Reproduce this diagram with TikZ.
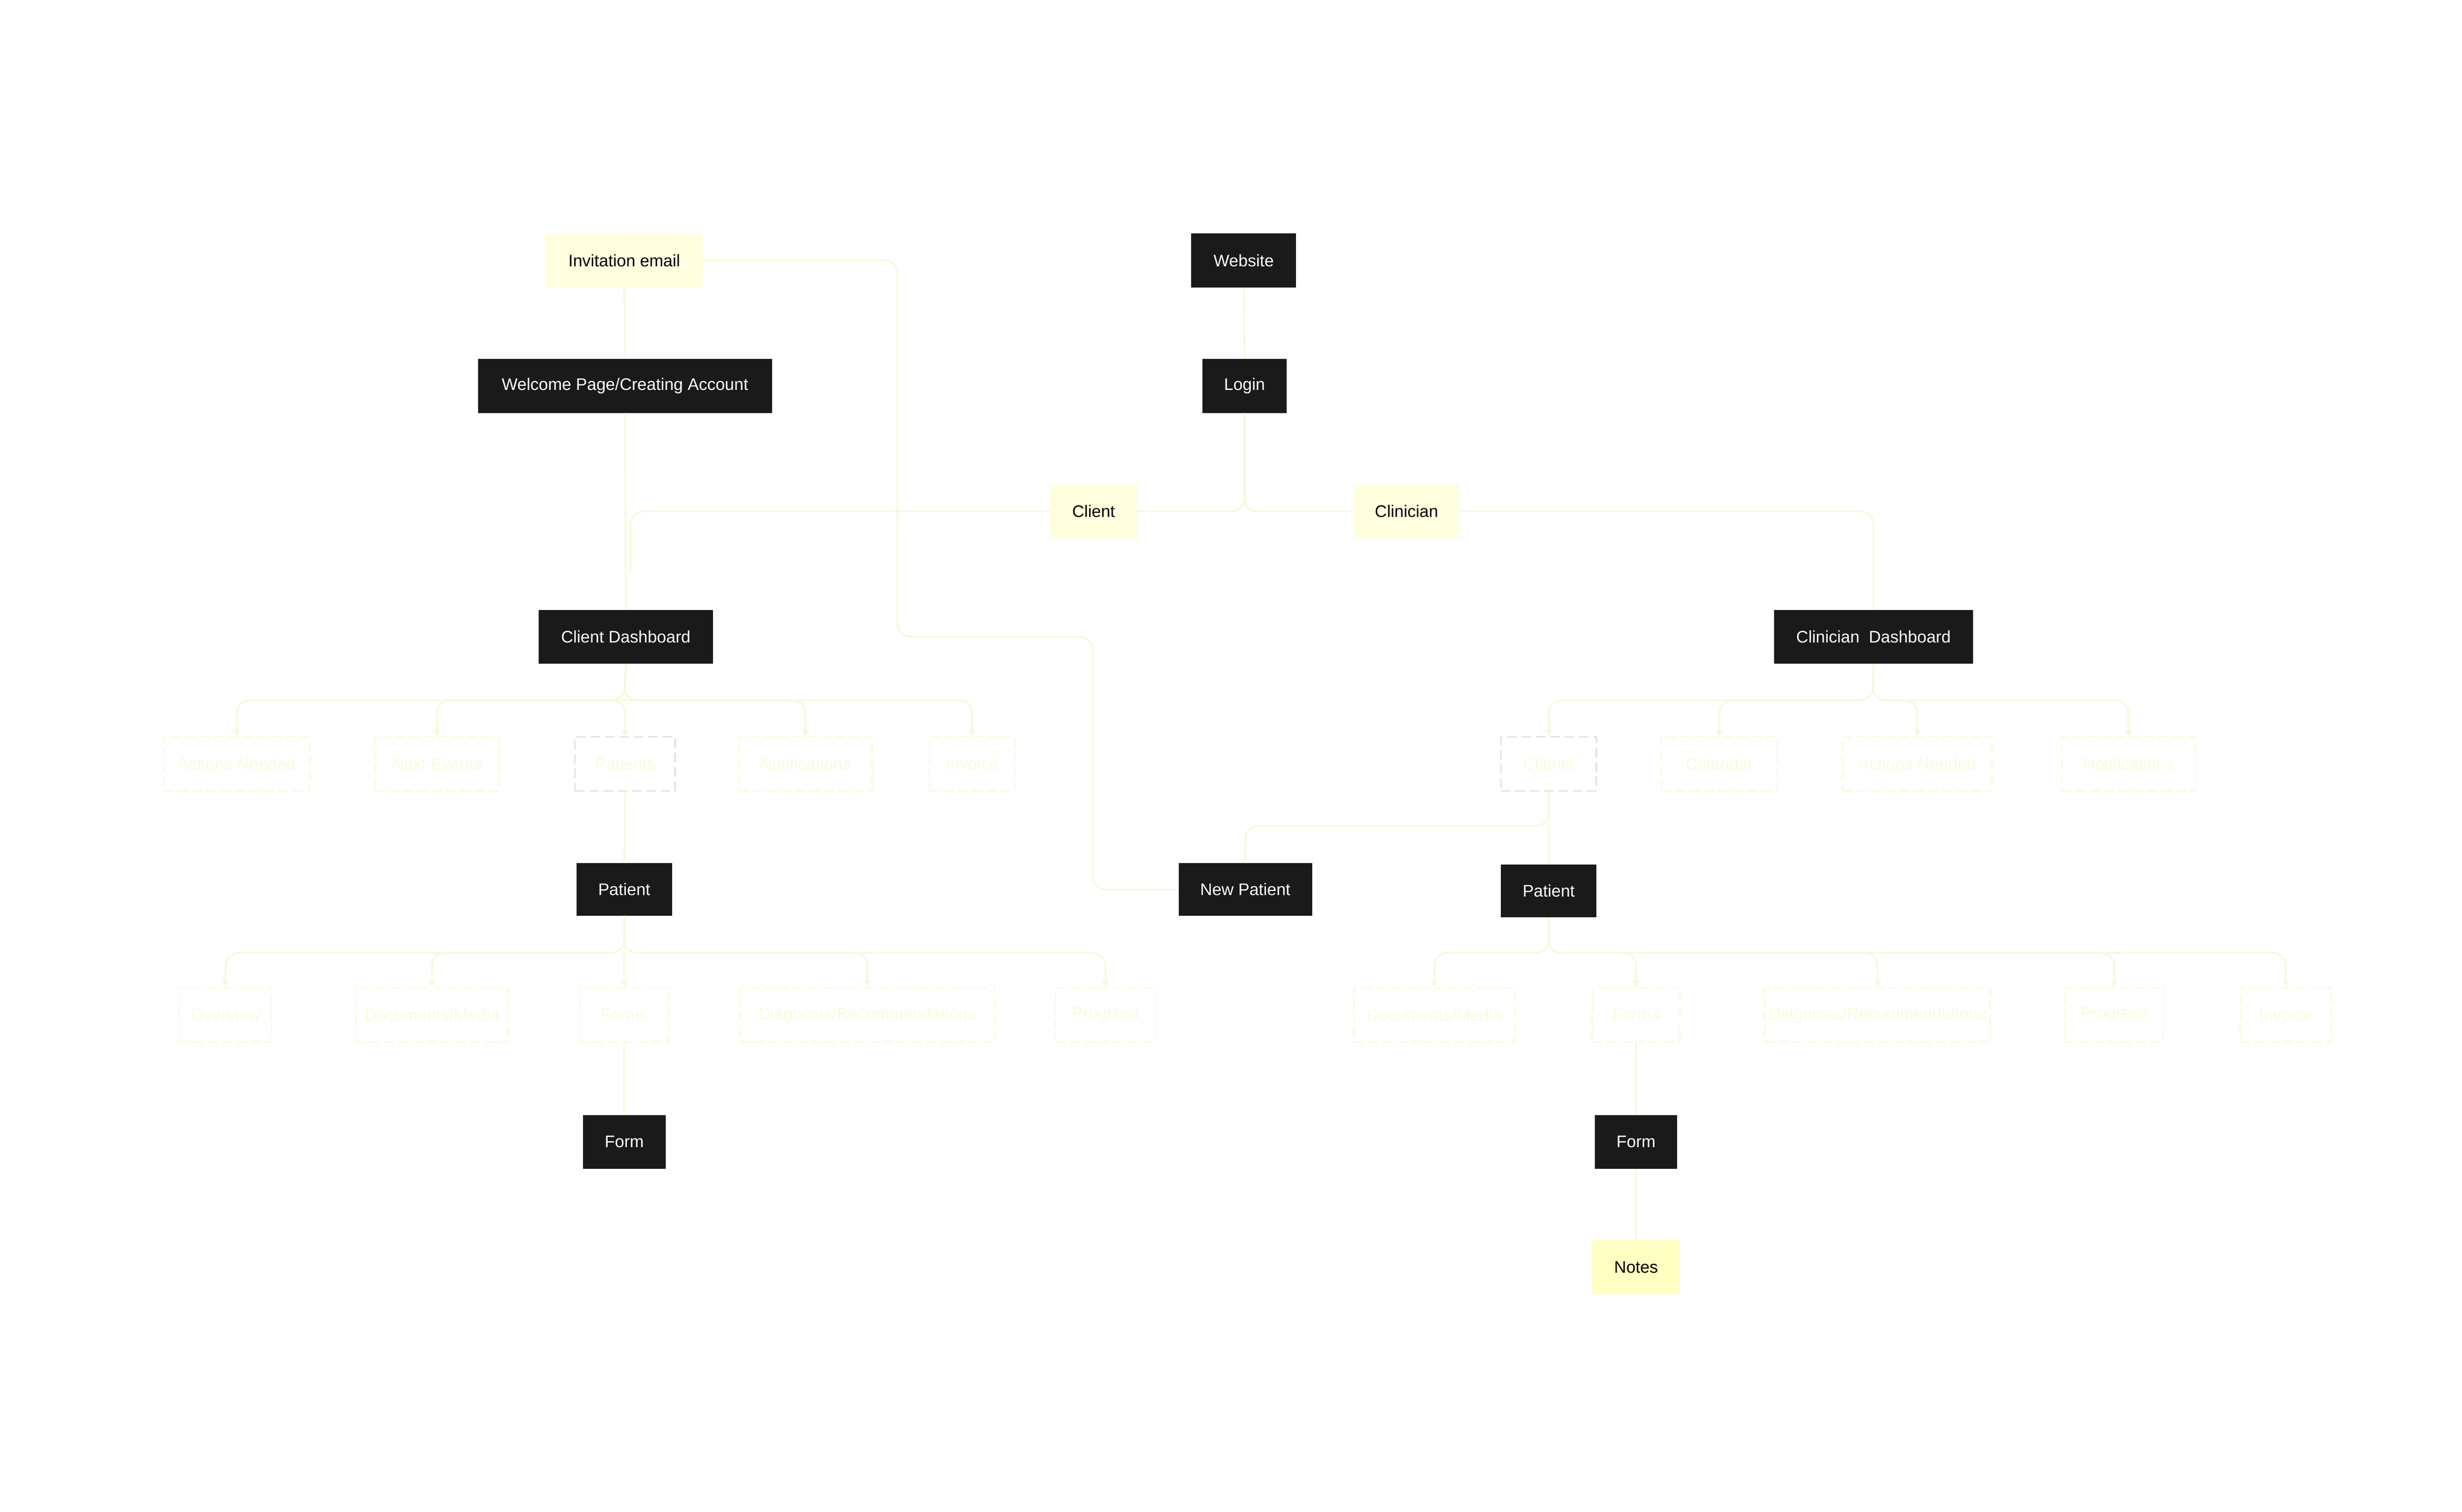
\documentclass[tikz,border=0pt]{standalone}
\usepackage{fontspec}
\setmainfont{Liberation Sans}
\usetikzlibrary{arrows.meta}
\definecolor{dk}{HTML}{1A1A1A}
\definecolor{ly}{HTML}{FFFFE0}
\definecolor{ny}{HTML}{FFFFC2}
\definecolor{ln}{HTML}{F8F8D8}
\definecolor{fy}{HTML}{FBFBDC}
\definecolor{gb}{HTML}{EAE4DC}
\tikzset{
 base/.style={inner sep=0pt, font=\fontsize{30}{36}\selectfont},
 dkbox/.style={base, fill=dk, text=white},
 ybox/.style={base, fill=ly, text=black},
 nbox/.style={base, fill=ny, text=black},
 fbox/.style={base, draw=fy, dash pattern=on 6mm off 3mm, line width=1mm, text=fy},
 gbox/.style={base, draw=gb, dash pattern=on 6mm off 3mm, line width=1mm, text=fy},
 conn/.style={draw=ln, line width=1mm, rounded corners=8mm},
 arr/.style={conn, -{Triangle[length=4mm,width=4mm]}},
}
\newcommand{\nd}[7]{\node[#2, minimum width=#5mm, minimum height=#6mm] (#1) at (#3,#4) {#7};}
\begin{document}
\begin{tikzpicture}[x=1mm,y=-1mm]
\useasboundingbox (0,0) rectangle (1550,952);
\nd{inv}{ybox}{393}{164}{99}{34}{Invitation email}
\nd{web}{dkbox}{783}{164}{66}{34}{Website}
\nd{wel}{dkbox}{393.5}{243}{185}{34}{Welcome Page/Creating Account}
\nd{log}{dkbox}{783.5}{243}{53}{34}{Login}
\nd{cli}{ybox}{688.5}{322}{55}{34}{Client}
\nd{cln}{ybox}{885.5}{322}{67}{34}{Clinician}
\nd{cd}{dkbox}{394}{401}{110}{34}{Client Dashboard}
\nd{cnd}{dkbox}{1179.5}{401}{125}{34}{Clinician~ Dashboard}
% row 1 left
\nd{an}{fbox}{149}{481}{92}{34}{Actions Needed}
\nd{ne}{fbox}{275}{481}{78}{34}{Next Events}
\nd{pts}{gbox}{393.5}{481}{63}{34}{Patients}
\nd{no}{fbox}{507}{481}{84}{34}{Notifications}
\nd{inv1}{fbox}{612}{481}{54}{34}{Invoice}
% row 1 right
\nd{cls}{gbox}{975}{481}{60}{34}{Clients}
\nd{cal}{fbox}{1082.5}{481}{73}{34}{Calendar}
\nd{an2}{fbox}{1207}{481}{94}{34}{Actions Needed}
\nd{no2}{fbox}{1340}{481}{84}{34}{Notifications}
% patients
\nd{pat}{dkbox}{393}{560}{60}{33}{Patient}
\nd{np}{dkbox}{784}{560}{84}{33}{New Patient}
\nd{pat2}{dkbox}{975}{561}{60}{33}{Patient}
% row 2 left
\nd{ov}{fbox}{142}{639}{58}{34}{Overview}
\nd{dm}{fbox}{272}{639}{96}{34}{Documents/Media}
\nd{fm}{fbox}{393}{639}{56}{34}{Forms}
\nd{dr}{fbox}{546}{639}{160}{34}{Diagnosis/Recommendations}
\nd{pr}{fbox}{696}{639}{63}{34}{Progress}
% row 2 right
\nd{dm2}{fbox}{903}{639}{101}{34}{Documents/Media}
\nd{fm2}{fbox}{1030}{639}{55}{34}{Forms}
\nd{dr2}{fbox}{1182}{639}{142}{34}{Diagnosis/Recommendations}
\nd{pr2}{fbox}{1331}{639}{62}{34}{Progress}
\nd{iv2}{fbox}{1439}{639}{57}{34}{Invoice}
% bottom
\nd{f1}{dkbox}{393}{719}{52}{34}{Form}
\nd{f2}{dkbox}{1030}{719}{52}{34}{Form}
\nd{notes}{nbox}{1030}{798}{55}{34}{Notes}
% connectors
\draw[conn] (inv.east) -| (565,401) -| (688,560) -- (np.west);
\draw[conn] (inv.south) -- (wel.north);
\draw[conn] (wel.south) -- (cd.north);
\draw[conn] (cli.west) -- (397,322) -- (397,360);
\draw[conn] (web.south) -- (log.north);
\draw[conn] (log.south) |- (cli.east);
\draw[conn] (log.south) |- (cln.west);
\draw[conn] (cln.east) -| (cnd.north);
\foreach \t in {an,ne,pts,no,inv1}{\draw[arr] (cd.south) -- (393,441) -| (\t.north);}
\foreach \t in {cls,cal,an2,no2}{\draw[arr] (cnd.south) -- (1179,441) -| (\t.north);}
\draw[conn] (pts.south) -- (pat.north);
\draw[conn] (cls.south) -- (pat2.north);
\draw[conn] (cls.south) -- (975,520) -| (np.north);
\foreach \t in {ov,dm,fm,dr,pr}{\draw[arr] (pat.south) -- (393,600) -| (\t.north);}
\foreach \t in {dm2,fm2,dr2,pr2,iv2}{\draw[arr] (pat2.south) -- (975,600) -| (\t.north);}
\draw[conn] (fm.south) -- (f1.north);
\draw[conn] (fm2.south) -- (f2.north);
\draw[conn] (f2.south) -- (notes.north);
\end{tikzpicture}
\end{document}
